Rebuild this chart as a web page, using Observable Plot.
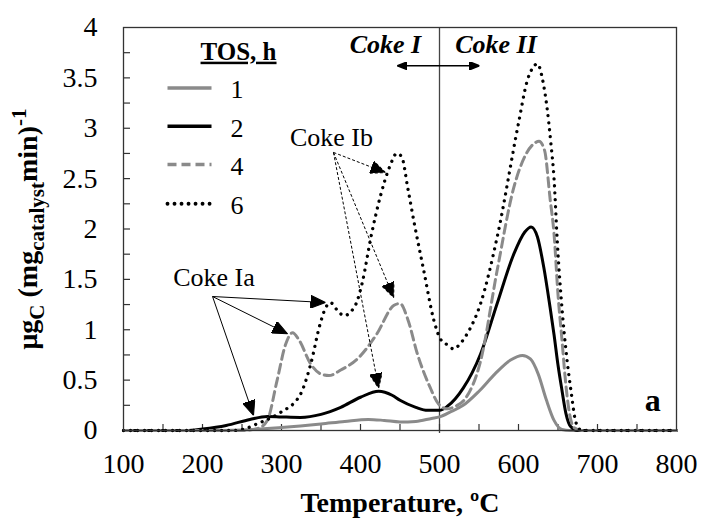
<!DOCTYPE html>
<html><head><meta charset="utf-8">
<script src="https://cdn.jsdelivr.net/npm/d3@7"></script>
<script src="https://cdn.jsdelivr.net/npm/@observablehq/plot@0.6"></script>
<style>body{margin:0;background:#fff}</style>
</head><body><div id="chart"></div>
<script>
// ---- data ----
const seriesKeys = ["1", "2", "4", "6"];

const temp1 = [100,200,250,300,350,380,410,430,450,470,490,500,515,530,550,570,590,605,615,625,635,645,655,665,800];
const val1  = [0,0,0.005,0.03,0.065,0.09,0.11,0.1,0.085,0.09,0.12,0.135,0.19,0.25,0.39,0.56,0.7,0.745,0.71,0.56,0.31,0.1,0.01,0,0];

const temp2 = [100,180,200,230,260,282,300,324,350,375,400,423,440,450,470,485,500,510,530,552,573,594,608,616,624,632,640,645,650,655,660,666,675,800];
const val2  = [0,0,0.015,0.05,0.11,0.14,0.135,0.13,0.16,0.23,0.33,0.39,0.35,0.3,0.23,0.2,0.2,0.24,0.42,0.76,1.26,1.75,1.97,2.02,1.92,1.62,1.22,0.95,0.65,0.4,0.17,0.04,0,0];

const temp4 = [100,250,270,282,294.5,305,314,322,337,350,360,375,396,420,442,450,460,472,488,499,510,520,531,552,573,594,610,620,626,633,640,645,650,655,660,665,670,680,800];
const val4  = [0,0,0.02,0.1,0.5,0.85,0.97,0.9,0.66,0.56,0.545,0.6,0.71,0.95,1.24,1.26,1.1,0.76,0.43,0.26,0.215,0.24,0.3,0.69,1.59,2.41,2.75,2.85,2.87,2.78,2.3,1.95,1.35,0.9,0.45,0.15,0.03,0,0];

const temp6 = [100,240,255,269,285,299,324,337,349,356,362,370,379,388,396,402,414,425,437,446,452,460,467.5,480,493,501,510,518,526,535,552,573,600,611,618,624,630,636,641,645,649,655,661,667,672,678,690,800];
const val6  = [0,0,0.02,0.066,0.12,0.18,0.36,0.66,1.06,1.22,1.27,1.2,1.14,1.18,1.29,1.46,1.95,2.32,2.62,2.75,2.72,2.4,2.08,1.59,1.09,0.91,0.85,0.81,0.86,0.96,1.26,1.92,3.05,3.47,3.6,3.64,3.5,3.21,2.85,2.5,1.89,1.22,0.73,0.36,0.1,0.01,0,0];

const xTickLabels = [100,200,300,400,500,600,700,800];
const xTickMarks  = [150,200,250,300,350,400,450,500,550,600,650,700,750];
const yTickLabels = [0,0.5,1,1.5,2,2.5,3,3.5,4];
const yTickMarks  = [0.25,0.5,0.75,1,1.25,1.5,1.75,2,2.25,2.5,2.75,3,3.25,3.5,3.75];

const boundaryT = [500];
const xTitle = "Temperature, ºC";
const yTitleParts = [["μg",""],["C","sub"],[" (mg",""],["catalyst","sub"],["min)",""],["-1","sup"]];
const yTitle = yTitleParts.map(p => p[0]).join("");

// legend (data coords)
const legendTitle = "TOS, h";
const legendTitlePos = [245.6, 3.76];
const legendLineT = [155.7, 211.4];
const legendLabelT = 235.4;
const legendY = [3.40, 3.02, 2.64, 2.25];

// annotations (data coords)
const iaLabel = "Coke Ia", iaLabelPos = [214.6, 1.52];
const iaFrom = [212.7, 1.33];
const iaTo = [[355.7, 1.27], [307.6, 0.96], [264.6, 0.15]];
const ibLabel = "Coke Ib", ibLabelPos = [363.3, 2.91];
const ibFrom = [365.8, 2.76];
const ibTo = [[431.6, 2.56], [442, 1.32], [423, 0.42]];
const zoneLabels = ["Coke I", "Coke II"];
const zoneLabelT = [431.6, 571.5];
const zoneLabelY = 3.83;
const zoneArrowT = [446.8, 550.6];
const zoneArrowY = 3.62;
const panelLabel = "a", panelLabelPos = [770, 0.30];

// ---- build ----
const temps = {"1": temp1, "2": temp2, "4": temp4, "6": temp6};
const vals = {"1": val1, "2": val2, "4": val4, "6": val6};
const rows = seriesKeys.flatMap(k => temps[k].map((t, i) => ({k, t, v: vals[k][i]})));

const style = {
  "1": {stroke: "#8a8a8a", strokeWidth: 3},
  "2": {stroke: "#000", strokeWidth: 3},
  "4": {stroke: "#8a8a8a", strokeWidth: 3, strokeDasharray: "9,5"},
  "6": {stroke: "#000", strokeWidth: 3.3, strokeDasharray: "0.01,7", strokeLinecap: "round"}
};

const ns = "http://www.w3.org/2000/svg";
function tri(len, wid) {
  return () => {
    const m = document.createElementNS(ns, "marker");
    m.setAttribute("viewBox", `${-len} ${-wid / 2} ${len} ${wid}`);
    m.setAttribute("markerWidth", len);
    m.setAttribute("markerHeight", wid);
    m.setAttribute("markerUnits", "userSpaceOnUse");
    m.setAttribute("refX", 0);
    m.setAttribute("refY", 0);
    m.setAttribute("orient", "auto-start-reverse");
    const p = document.createElementNS(ns, "path");
    p.setAttribute("d", `M0,0L${-len},${-wid / 2}L${-len},${wid / 2}Z`);
    p.setAttribute("fill", "#000");
    m.appendChild(p);
    return m;
  };
}

const W = 701, H = 519, mL = 123, mR = 25, mT = 27, mB = 89;
const innerW = W - mL - mR, innerH = H - mT - mB;
const font = "Liberation Serif, Times New Roman, serif";

const iaLinks = iaTo.map(d => ({x1: iaFrom[0], y1: iaFrom[1], x2: d[0], y2: d[1]}));
const ibLinks = ibTo.map(d => ({x1: ibFrom[0], y1: ibFrom[1], x2: d[0], y2: d[1]}));
const legendRows = seriesKeys.map((k, i) => ({k, y: legendY[i]}));

const marks = [
  Plot.ruleX(boundaryT, {stroke: "#444", strokeWidth: 1.3, insetBottom: -3}),
  Plot.tickX(xTickMarks, {x: d => d, stroke: "#333", strokeWidth: 1.2, insetTop: innerH - 6}),
  Plot.tickY(yTickMarks, {y: d => d, stroke: "#333", strokeWidth: 1.2, insetRight: innerW - 7}),
  Plot.axisX(xTickLabels, {tickSize: 0, tickPadding: 23, label: null, fontSize: 28, tickFormat: d => String(d)}),
  Plot.axisY(yTickLabels, {tickSize: 0, tickPadding: 26, label: null, fontSize: 28, tickFormat: d => String(d)}),
  ...seriesKeys.map(k => Plot.line(rows.filter(r => r.k === k), {x: "t", y: "v", curve: "monotone-x", ...style[k]})),
  Plot.frame({stroke: "#333", strokeWidth: 1.3}),
  // legend
  Plot.text([legendTitle], {x: legendTitlePos[0], y: legendTitlePos[1], fontWeight: "bold", fontSize: 25, lineAnchor: "middle"}),
  ...legendRows.map(r => Plot.link([r], {x1: legendLineT[0], x2: legendLineT[1], y1: "y", y2: "y", ...style[r.k], strokeWidth: style[r.k].strokeWidth + 0.6})),
  Plot.text(legendRows, {x: legendLabelT, y: d => d.y - 0.02, text: "k", textAnchor: "start", fontSize: 26, lineAnchor: "middle"}),
  // annotations
  Plot.link(iaLinks, {x1: "x1", y1: "y1", x2: "x2", y2: "y2", stroke: "#000", strokeWidth: 1, markerEnd: tri(15, 13)}),
  Plot.link(ibLinks, {x1: "x1", y1: "y1", x2: "x2", y2: "y2", stroke: "#000", strokeWidth: 1, strokeDasharray: "3,2", markerEnd: tri(15, 13)}),
  Plot.text([iaLabel], {x: iaLabelPos[0], y: iaLabelPos[1], fontSize: 26, lineAnchor: "middle"}),
  Plot.text([ibLabel], {x: ibLabelPos[0], y: ibLabelPos[1], fontSize: 26, lineAnchor: "middle"}),
  Plot.text(zoneLabels, {x: (d, i) => zoneLabelT[i], y: zoneLabelY, fontSize: 26, fontWeight: "bold", fontStyle: "italic", lineAnchor: "middle"}),
  Plot.link([{x1: zoneArrowT[0], x2: zoneArrowT[1], y: zoneArrowY}], {x1: "x1", x2: "x2", y1: "y", y2: "y", stroke: "#000", strokeWidth: 1.5, markerStart: tri(10, 8), markerEnd: tri(10, 8)}),
  Plot.text([panelLabel], {x: panelLabelPos[0], y: panelLabelPos[1], fontSize: 32, fontWeight: "bold", lineAnchor: "middle"}),
  // axis titles
  Plot.text([xTitle], {frameAnchor: "bottom", dy: 73, fontSize: 28, fontWeight: "bold", textAnchor: "middle", lineAnchor: "middle"}),
  Plot.text([yTitle], {frameAnchor: "left", dx: -95, rotate: -90, fontSize: 28, fontWeight: "bold", textAnchor: "middle", lineAnchor: "middle"})
];

const chart = Plot.plot({
  width: W, height: H,
  marginLeft: mL, marginRight: mR, marginTop: mT, marginBottom: mB,
  x: {domain: [100, 800]},
  y: {domain: [0, 4]},
  style: {fontFamily: font, fontSize: "28px", color: "#000", background: "#fff"},
  marks
});

// post-process: underline legend title, subscripts in y title
d3.select(chart).selectAll("text").each(function () {
  if (this.textContent === legendTitle) this.setAttribute("text-decoration", "underline");
  if (this.textContent === yTitle) {
    const el = d3.select(this);
    el.text(null);
    let shift = 0;
    yTitleParts.forEach(([s, kind]) => {
      const target = kind === "sub" ? 7 : kind === "sup" ? -11 : 0;
      el.append("tspan")
        .attr("dy", target - shift)
        .attr("font-size", kind ? 21 : 28)
        .text(s);
      shift = target;
    });
  }
});

document.getElementById("chart").appendChild(chart);
</script>
</body></html>
